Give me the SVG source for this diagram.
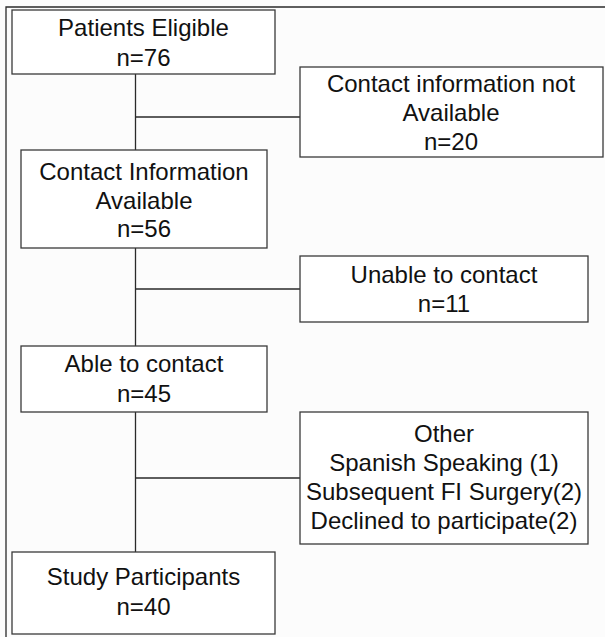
<svg xmlns="http://www.w3.org/2000/svg" width="605" height="637" viewBox="0 0 605 637">
<style>
.box{fill:#ffffff;stroke:#3a3a3a;stroke-width:1.3}
.c{fill:none;stroke:#2a2a2a;stroke-width:1.3}
text{font-family:"Liberation Sans",Arial,sans-serif;font-size:24px;fill:#111;text-anchor:middle}
</style>
<rect x="0" y="0" width="605" height="637" fill="#fcfcfc"/>
<path class="c" d="M6,637 V7 H605"/>
<g id="connectors">
<path class="c" d="M135.5,74 V150 M135.5,248 V346 M135.5,412 V552"/>
<path class="c" d="M135.5,117 H300 M135.5,289 H300 M135.5,478 H300"/>
</g>
<g id="eligible">
<rect class="box" x="12" y="10" width="263" height="64"/>
<text x="143.5" y="36">Patients Eligible</text>
<text x="143.5" y="66">n=76</text>
</g>
<g id="not-available">
<rect class="box" x="300" y="67" width="303" height="90"/>
<text x="451" y="92">Contact information not</text>
<text x="451" y="121">Available</text>
<text x="451" y="150">n=20</text>
</g>
<g id="available">
<rect class="box" x="21" y="150" width="246" height="98"/>
<text x="144" y="180">Contact Information</text>
<text x="144" y="208.5">Available</text>
<text x="144" y="237">n=56</text>
</g>
<g id="unable">
<rect class="box" x="300" y="256" width="288" height="66"/>
<text x="444" y="283">Unable to contact</text>
<text x="444" y="312">n=11</text>
</g>
<g id="able">
<rect class="box" x="21" y="346" width="246" height="66"/>
<text x="144" y="372">Able to contact</text>
<text x="144" y="402">n=45</text>
</g>
<g id="other">
<rect class="box" x="300" y="412" width="288" height="132"/>
<text x="444" y="442">Other</text>
<text x="444" y="471">Spanish Speaking (1)</text>
<text x="444" y="500">Subsequent FI Surgery(2)</text>
<text x="444" y="529">Declined to participate(2)</text>
</g>
<g id="participants">
<rect class="box" x="12" y="552" width="263" height="82"/>
<text x="143.5" y="585">Study Participants</text>
<text x="143.5" y="615">n=40</text>
</g>
</svg>
